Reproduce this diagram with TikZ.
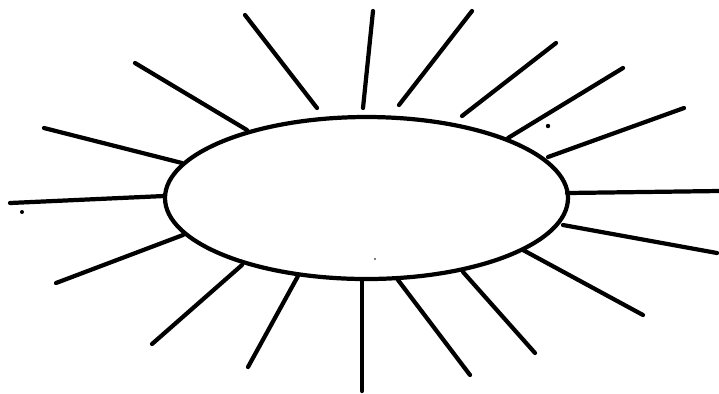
\documentclass[tikz,border=0pt]{standalone}
\usepackage{tikz}

\begin{document}
\begin{tikzpicture}[x=0.01cm, y=-0.01cm, ray/.style={line width=1.2pt, line cap=round}]
        \useasboundingbox (0,0) rectangle (719,393);
        \draw[line width=1.2pt] (366.5,198) ellipse [x radius=201.5, y radius=81];
        % rays: outer end / inner end
        \foreach \xa/\ya/\xb/\yb in {245/15/317/108, 373/11/363/108, 472/11/399/105,
            556/43/462/116, 623/68/508/138, 684/108/548/157, 719/191/567/193,
            717/253/563/225, 643/315/523/250, 535/353/463/272, 470/375/398/280,
            362/391/362/279, 248/367/298/276, 152/344/242/265, 56/283/183/235,
            10/203/164/196, 44/128/182/163, 135/63/247/130}
          \draw[ray] (\xa,\ya) -- (\xb,\yb);
        \fill (548,126) circle [radius=2.2];
        \fill (22,212) circle [radius=2];
        \fill (375,259) circle [radius=0.9];
      \end{tikzpicture}
\end{document}
